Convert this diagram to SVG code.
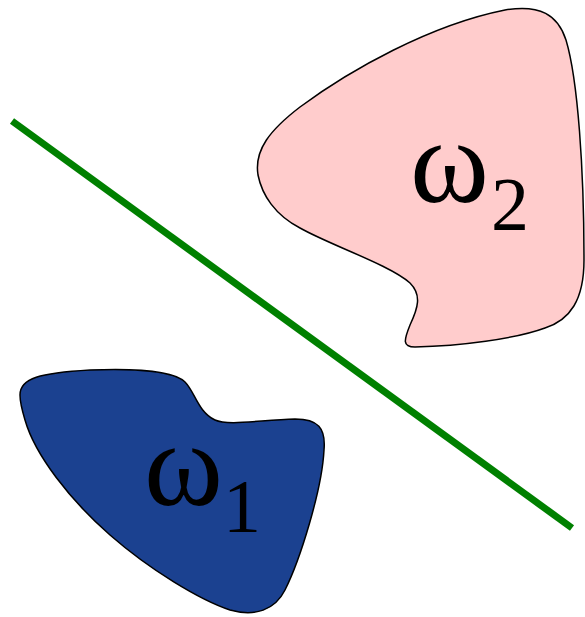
<svg xmlns="http://www.w3.org/2000/svg" width="585" height="617" viewBox="0 0 585 617">
<style>
.blob{stroke:#000;stroke-width:1.5}
.lbl{font-family:"Liberation Serif","Times New Roman",serif;fill:#000}
.w{font-size:120px}
.s{font-size:76px}
</style>
<rect width="585" height="617" fill="#fff"/>
<g id="class2">
<path class="blob" fill="#ffcccc" d="M 505 10 C 540 4 558 15 566 40 C 578 80 584 170 584 260 C 584 300 570 320 545 328 C 515 339 460 346 415 347 C 402 347 404 340 410 325 C 418 308 422 295 410 283 C 390 265 330 245 300 228 C 275 215 262 195 258 175 C 254 150 270 130 300 107 C 350 70 430 25 505 10 Z"/>
<text class="lbl" x="410" y="202"><tspan class="w">ω</tspan><tspan class="s" dx="2" dy="28">2</tspan></text>
</g>
<g id="class1">
<path class="blob" fill="#1b4190" d="M 20 395 C 20 378 40 373 90 370 C 140 368 175 372 185 382 C 195 392 198 412 215 420 C 228 426 260 420 295 419 C 318 419 326 428 324 450 C 322 490 300 560 285 590 C 275 610 255 617 230 610 C 200 600 150 570 110 535 C 70 500 35 455 25 420 C 22 410 20 400 20 395 Z"/>
<text class="lbl" x="144" y="505"><tspan class="w">ω</tspan><tspan class="s" dx="0" dy="27">1</tspan></text>
</g>
<g id="connectors">
<line x1="12" y1="121" x2="572" y2="528" stroke="#008000" stroke-width="7"/>
</g>
</svg>
